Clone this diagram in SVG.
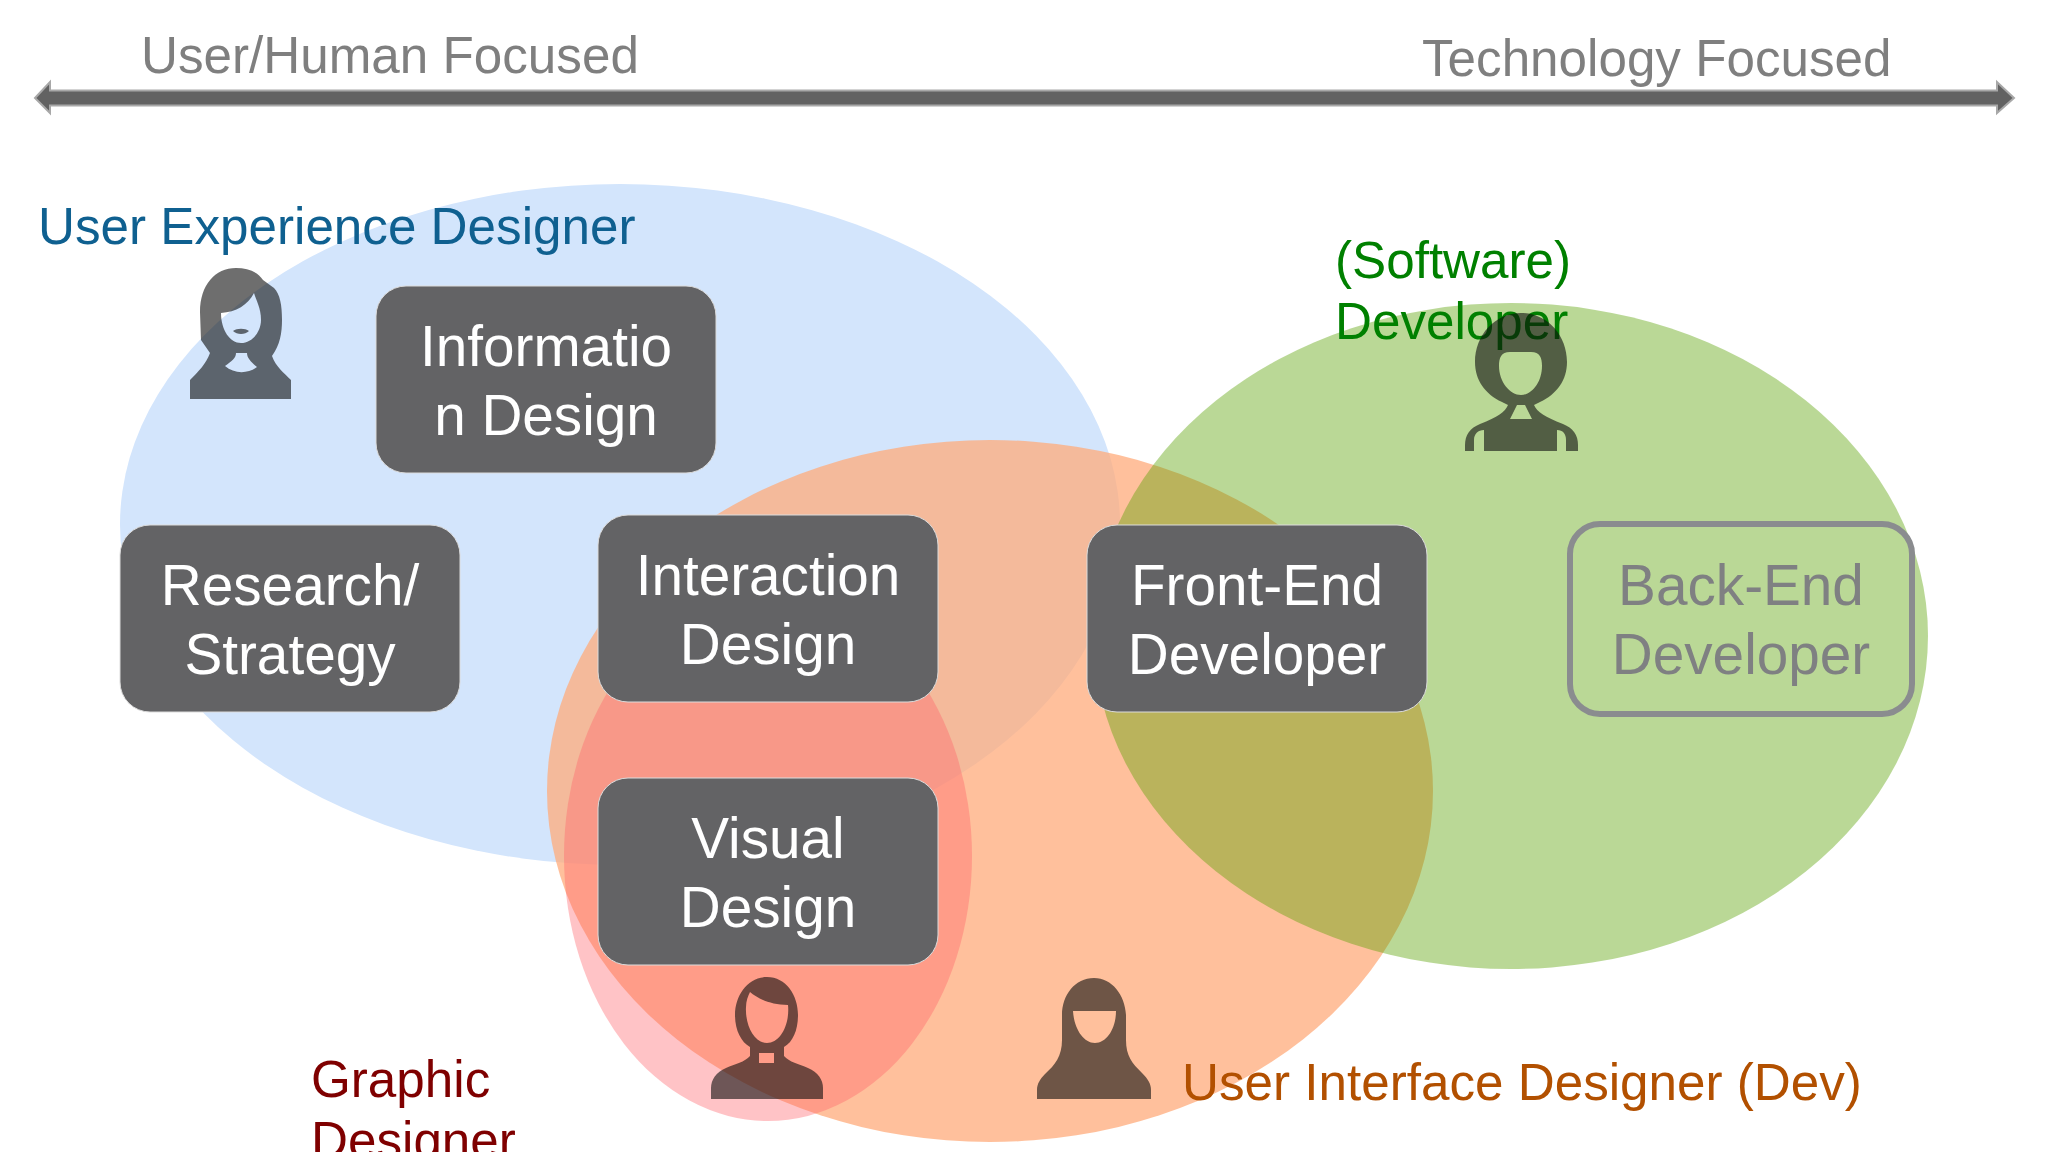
<svg xmlns="http://www.w3.org/2000/svg" width="2048" height="1152" viewBox="0 0 2048 1152">
<defs>
<style>
text{font-family:"Liberation Sans",Arial,sans-serif}
.l{font-size:51.2px}
.b{font-size:56.7px;fill:#fff;text-anchor:middle}
.box{fill:#636365;stroke:#dcdcdc;stroke-width:1}
.icon{fill:#0d0d0d;fill-opacity:.6;fill-rule:evenodd}
</style>
</defs>
<rect width="2048" height="1152" fill="#fff"/>
<g id="venn">
<ellipse id="ellipse-ux" cx="620" cy="524.500" rx="500" ry="340.500" fill="#d3e5fc"/>
<ellipse id="ellipse-ui" cx="990" cy="791" rx="443" ry="351" fill="#ffab7b" fill-opacity=".75"/>
<ellipse id="ellipse-graphic" cx="768" cy="856" rx="204" ry="265" fill="#ff6169" fill-opacity=".38"/>
<ellipse id="ellipse-dev" cx="1511" cy="636" rx="417" ry="333" fill="#57a000" fill-opacity=".41"/>
</g>
<g id="connectors">
<path id="scale-arrow" d="M35 98L50 82V90.500H1997V82L2014 98L1997 113V105.500H50V113Z" fill="#626262" stroke="#a8a8a8" stroke-width="2"/>
</g>
<g id="labels">
<text class="l" x="141" y="73" fill="#7f7f7f">User/Human Focused</text>
<text class="l" x="1422" y="76" fill="#7f7f7f">Technology Focused</text>
<text class="l" x="38" y="244" fill="#0f6090">User Experience Designer</text>
<text class="l" x="1335" y="278" fill="#008000">(Software)</text>
<text class="l" x="1335" y="339" fill="#008000">Developer</text>
<text class="l" x="311" y="1097" fill="#7f0000">Graphic</text>
<text class="l" x="311" y="1158" fill="#7f0000">Designer</text>
<text class="l" x="1182" y="1100" fill="#b25000">User Interface Designer (Dev)</text>
</g>
<g id="node-information"><rect class="box" x="376" y="286" width="340" height="187" rx="30"/><text class="b" x="546" y="366">Informatio</text><text class="b" x="546" y="435">n Design</text></g>
<g id="node-research"><rect class="box" x="120" y="525" width="340" height="187" rx="30"/><text class="b" x="290" y="605">Research/</text><text class="b" x="290" y="674">Strategy</text></g>
<g id="node-interaction"><rect class="box" x="598" y="515" width="340" height="187" rx="30"/><text class="b" x="768" y="595">Interaction</text><text class="b" x="768" y="664">Design</text></g>
<g id="node-visual"><rect class="box" x="598" y="778" width="340" height="187" rx="30"/><text class="b" x="768" y="858">Visual</text><text class="b" x="768" y="927">Design</text></g>
<g id="node-frontend"><rect class="box" x="1087" y="525" width="340" height="187" rx="30"/><text class="b" x="1257" y="605">Front-End</text><text class="b" x="1257" y="674">Developer</text></g>
<g id="node-backend"><rect x="1570" y="524" width="342" height="190" rx="30" fill="none" stroke="#8a8c8f" stroke-width="6"/><text class="b" x="1741" y="605" style="fill:#7f8082">Back-End</text><text class="b" x="1741" y="674" style="fill:#7f8082">Developer</text></g>
<g id="person-ux"><path class="icon" d="M236 268C215 268 200 285 200 312L201 340L210 353C206 364 198 372 190 380V399H291V380C284 373 276 367 272 356C280 345 282 333 282 320C282 305 280 294 274 288L263 280C258 272 248 268 236 268ZM254 293C256 300 261 308 261 320C261 332 252 343 241 343C230 343 221 330 221 313C236 312 248 305 254 293ZM225 366C232 361 236 358 236 353H247C247 358 251 362 257 367C248 374 234 374 225 366ZM233 331C237 328 245 328 249 331C245 335 237 335 233 331Z"/></g>
<g id="person-dev"><path class="icon" d="M1521 313C1495 313 1475 335 1475 362C1475 380 1485 394 1502 402L1508 405C1505 412 1498 417 1480 424C1470 428 1465 435 1465 445V451H1474V440C1474 434 1478 430 1484 430V451H1557V430C1563 430 1566 434 1566 440V451H1578V445C1578 435 1573 428 1563 424C1545 417 1537 412 1534 405L1540 402C1557 394 1567 380 1567 362C1567 335 1547 313 1521 313ZM1510 352H1531C1540 352 1542 358 1542 366C1542 382 1532 395 1521 395C1510 395 1499 382 1499 366C1499 358 1501 352 1510 352ZM1517 405H1525L1532 419H1510Z"/></g>
<g id="person-graphic"><path class="icon" d="M767 977C748 977 735 995 735 1015C735 1030 741 1042 750 1047V1056C745 1062 735 1064 726 1068C716 1072 711 1080 711 1088V1099H823V1088C823 1080 818 1072 808 1068C799 1064 789 1062 784 1056V1047C793 1042 798 1030 798 1015C798 995 786 977 767 977ZM750 992C757 998 770 1005 788 1005C790 1025 780 1043 767 1043C754 1043 745 1025 746 1007C746 1001 748 996 750 992ZM759 1053H774V1063H759Z"/></g>
<g id="person-ui"><path class="icon" d="M1094 978C1075 978 1062 995 1062 1015V1040C1062 1056 1055 1065 1045 1074C1040 1079 1037 1084 1037 1090V1099H1151V1090C1151 1084 1148 1079 1142 1073C1132 1063 1126 1056 1126 1040V1015C1125 995 1112 978 1094 978ZM1073 1011H1116C1116 1028 1107 1043 1095 1043C1083 1043 1074 1028 1073 1011Z"/></g>
</svg>
